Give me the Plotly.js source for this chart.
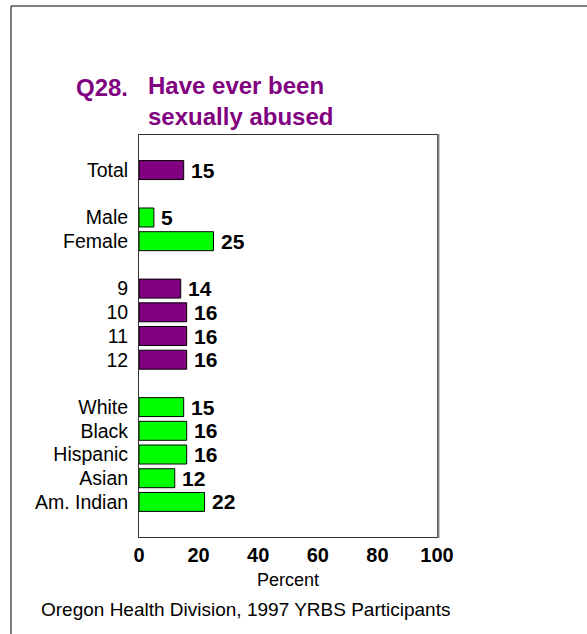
<!DOCTYPE html>
<html>
<head>
<meta charset="utf-8">
<script src="https://cdn.plot.ly/plotly-3.0.1.min.js"></script>
<style>html,body{margin:0;padding:0;background:#fff;}#chart{width:587px;height:634px;}</style>
</head>
<body>
<div id="chart"></div>
<script>
// Data
const groupLabels = [["Total"], ["Male", "Female"], ["9", "10", "11", "12"], ["White", "Black", "Hispanic", "Asian", "Am. Indian"]];
const groupValues = [[15], [5, 25], [14, 16, 16, 16], [15, 16, 16, 12, 22]];
const groupColors = ["#800080", "#00FF00", "#800080", "#00FF00"];
const xTicks = [0, 20, 40, 60, 80, 100];
const titleNum = "Q28.";
const titleText = "Have ever been<br>sexually abused";
const xTitle = "Percent";
const footer = "Oregon Health Division, 1997 YRBS Participants";

// Build slot positions (one empty slot between groups)
const cats = [], vals = [], cols = [], pos = [];
let p = 0;
groupLabels.forEach((g, gi) => {
  g.forEach((lab, i) => {
    cats.push(lab); vals.push(groupValues[gi][i]); cols.push(groupColors[gi]); pos.push(p); p++;
  });
  p++;
});
const lastPos = pos[pos.length - 1];

const W = 587, H = 634;
const L = 139, R = 437, T = 135, B = 537;
const pw = R - L, ph = B - T;
const px = x => (x - L) / pw;
const py = y => 1 - (y - T) / ph;

const trace = {
  type: 'bar', orientation: 'h',
  x: vals, y: pos,
  marker: {color: cols, line: {color: '#000', width: 1}},
  width: 0.8, hoverinfo: 'none'
};

const annotations = vals.map((v, i) => ({
  x: v, y: pos[i], xref: 'x', yref: 'y', text: String(v), showarrow: false,
  xanchor: 'left', yanchor: 'middle', xshift: 5, yshift: 0,
  font: {family: 'Liberation Sans, Arial, sans-serif', size: 21, color: '#000', weight: 'bold'}
}));
annotations.push({
  x: px(74), y: py(88), xref: 'paper', yref: 'paper', text: '<b>' + titleNum + '</b>', showarrow: false,
  xanchor: 'left', yanchor: 'middle',
  font: {family: 'Liberation Sans, Arial, sans-serif', size: 24, color: '#800080'}
});
annotations.push({
  x: px(146), y: py(101), xref: 'paper', yref: 'paper', text: '<b>' + titleText + '</b>', showarrow: false,
  xanchor: 'left', yanchor: 'middle', align: 'left',
  font: {family: 'Liberation Sans, Arial, sans-serif', size: 24, color: '#800080'}
});
annotations.push({
  x: px(39), y: py(609), xref: 'paper', yref: 'paper', text: footer, showarrow: false,
  xanchor: 'left', yanchor: 'middle',
  font: {family: 'Liberation Sans, Arial, sans-serif', size: 19, color: '#000'}
});

const layout = {
  width: W, height: H,
  margin: {l: L, r: W - R, t: T, b: H - B, pad: 0},
  paper_bgcolor: '#fff', plot_bgcolor: '#fff',
  showlegend: false,
  font: {family: 'Liberation Sans, Arial, sans-serif', color: '#000'},
  xaxis: {
    range: [0, 100], tickvals: xTicks, ticktext: xTicks.map(String),
    showgrid: false, zeroline: false, showline: true, mirror: true, linecolor: '#333', linewidth: 1,
    ticks: '', ticklen: 0,
    tickfont: {size: 20, weight: 'bold'},
    title: {text: xTitle, font: {size: 18}, standoff: 8},
    fixedrange: true
  },
  yaxis: {
    range: [lastPos + 1.48, -1.48], tickvals: pos, ticktext: cats,
    showgrid: false, zeroline: false, showline: true, mirror: true, linecolor: '#333', linewidth: 1,
    ticks: 'outside', ticklen: 6, tickcolor: 'rgba(0,0,0,0)',
    tickfont: {size: 19.5},
    fixedrange: true
  },
  annotations: annotations,
  shapes: [
    {type: 'line', xref: 'paper', yref: 'paper', x0: px(11), x1: px(590), y0: py(6), y1: py(6), line: {color: '#000', width: 1}},
    {type: 'line', xref: 'paper', yref: 'paper', x0: px(11), x1: px(11), y0: py(6), y1: py(640), line: {color: '#000', width: 1}},
    {type: 'line', xref: 'paper', yref: 'paper', x0: px(438.5), x1: px(438.5), y0: py(134), y1: py(538), line: {color: '#888', width: 2}}
  ]
};

Plotly.newPlot('chart', [trace], layout, {displayModeBar: false, staticPlot: true});
</script>
</body>
</html>
